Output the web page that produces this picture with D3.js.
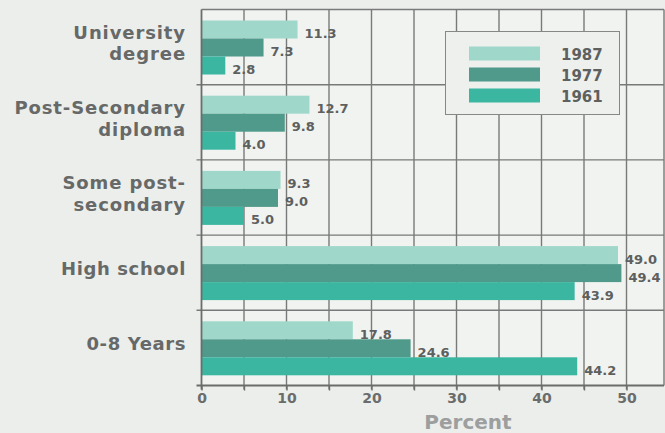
<!DOCTYPE html>
<html><head><meta charset="utf-8">
<script src="https://cdn.jsdelivr.net/npm/d3@7"></script>
<style>
html,body{margin:0;padding:0;background:#eceeec;}
svg{display:block;}
</style></head>
<body>
<svg id="c" width="665" height="433"></svg>
<script>
const categories = ["University degree", "Post-Secondary diploma", "Some post-secondary", "High school", "0-8 Years"];
const categoryLines = [["University","degree"],["Post-Secondary","diploma"],["Some post-","secondary"],["High school"],["0-8 Years"]];
const seriesNames = ["1987", "1977", "1961"];
const values1987 = [11.3, 12.7, 9.3, 49.0, 17.8];
const values1977 = [7.3, 9.8, 9.0, 49.4, 24.6];
const values1961 = [2.8, 4.0, 5.0, 43.9, 44.2];
const tickLabels = [0, 10, 20, 30, 40, 50];
const gridTicks = [0, 5, 10, 15, 20, 25, 30, 35, 40, 45, 50];
const colors = ["#9fd7ca", "#4f9a8b", "#3bb6a1"];

(function(){
const seriesValues = [values1987, values1977, values1961];
const svg = d3.select("#c");
const pLeft = 201.5, pRight = 664, pTop = 9.5, pBottom = 385.5;

const x = d3.scaleLinear().domain([0, 50]).range([pLeft, 626.5]);
const y = d3.scaleBand().domain(categories).range([pTop, pBottom]).paddingInner(0).paddingOuter(0);
const yInner = d3.scaleBand().domain(seriesNames).range([11, 65]);

svg.append("rect").attr("x", pLeft).attr("y", pTop).attr("width", pRight - pLeft).attr("height", pBottom - pTop).attr("fill", "#f1f3f1");

const gridColor = "#777a78";
svg.append("g").selectAll("line").data(gridTicks.filter(d => d > 0)).join("line")
  .attr("x1", d => x(d)).attr("x2", d => x(d)).attr("y1", pTop).attr("y2", pBottom + 4)
  .attr("stroke", gridColor).attr("stroke-width", 1.4);
const bounds = categories.map(c => y(c)).concat([pBottom]);
svg.append("g").selectAll("line").data(bounds.slice(1, -1)).join("line")
  .attr("x1", pLeft - 5).attr("x2", pRight).attr("y1", d => d).attr("y2", d => d)
  .attr("stroke", gridColor).attr("stroke-width", 1.4);
svg.append("line").attr("x1", pLeft).attr("x2", pRight).attr("y1", pTop).attr("y2", pTop).attr("stroke", gridColor).attr("stroke-width", 1.6);
svg.append("line").attr("x1", pRight).attr("x2", pRight).attr("y1", pTop).attr("y2", pBottom).attr("stroke", gridColor).attr("stroke-width", 1.4);

const barG = svg.append("g");
categories.forEach((c, i) => {
  seriesNames.forEach((s, j) => {
    const v = seriesValues[j][i];
    barG.append("rect")
      .attr("x", x(0)).attr("y", y(c) + yInner(s))
      .attr("width", x(v) - x(0)).attr("height", yInner.bandwidth())
      .attr("fill", colors[j]);
    barG.append("text")
      .attr("x", x(v) + 7).attr("y", y(c) + yInner(s) + yInner.bandwidth() / 2 + 8.5)
      .attr("font-family", "DejaVu Sans, sans-serif").attr("font-weight", "bold")
      .attr("font-size", 13).attr("fill", "#5d605e")
      .text(v.toFixed(1));
  });
});

svg.append("line").attr("x1", pLeft).attr("x2", pLeft).attr("y1", pTop).attr("y2", pBottom + 4).attr("stroke", "#6a6d6b").attr("stroke-width", 1.8);
const xAxis = d3.axisBottom(x).tickValues(gridTicks).tickSize(5).tickFormat(d => tickLabels.includes(d) ? d : "");
const ax = svg.append("g").attr("transform", `translate(0,${pBottom})`).call(xAxis);
ax.select(".domain").attr("stroke", "#6a6d6b").attr("stroke-width", 1.8).attr("d", `M${pLeft - 5},0H${pRight}`);
ax.selectAll(".tick line").attr("stroke", "#6a6d6b").attr("stroke-width", 1.4);
ax.selectAll(".tick text").attr("font-family", "DejaVu Sans, sans-serif").attr("font-weight", "bold")
  .attr("font-size", 14).attr("fill", "#6a6d6b").attr("dy", "0.55em").attr("y", 10);

svg.append("text").attr("x", 468).attr("y", 429).attr("text-anchor", "middle")
  .attr("font-family", "DejaVu Sans, sans-serif").attr("font-weight", "bold").attr("font-size", 20)
  .attr("fill", "#9c9f9d").text("Percent");

categories.forEach((c, i) => {
  const lines = categoryLines[i];
  const cy = y(c) + y.bandwidth() / 2 - 4;
  const lh = 21.5;
  lines.forEach((ln, k) => {
    svg.append("text").attr("text-anchor", "end")
      .attr("font-family", "DejaVu Sans, sans-serif").attr("font-weight", "bold").attr("font-size", 18)
      .attr("letter-spacing", lines.length > 1 ? 0.9 : 0.6)
      .attr("fill", "#666967")
      .attr("x", 186).attr("y", cy + (k - (lines.length - 1) / 2) * lh + 6.5).text(ln);
  });
});

const lg = svg.append("g");
lg.append("rect").attr("x", 445.5).attr("y", 31.5).attr("width", 174).attr("height", 83)
  .attr("fill", "#eef0ee").attr("stroke", "#858886").attr("stroke-width", 1);
seriesNames.forEach((s, j) => {
  const yy = 46.5 + j * 21;
  lg.append("rect").attr("x", 469).attr("y", yy).attr("width", 71).attr("height", 14).attr("fill", colors[j]);
  lg.append("text").attr("x", 561).attr("y", yy + 13)
    .attr("font-family", "DejaVu Sans, sans-serif").attr("font-weight", "bold").attr("font-size", 15)
    .attr("fill", "#5d605e").text(s);
});
})();
</script>
</body></html>
